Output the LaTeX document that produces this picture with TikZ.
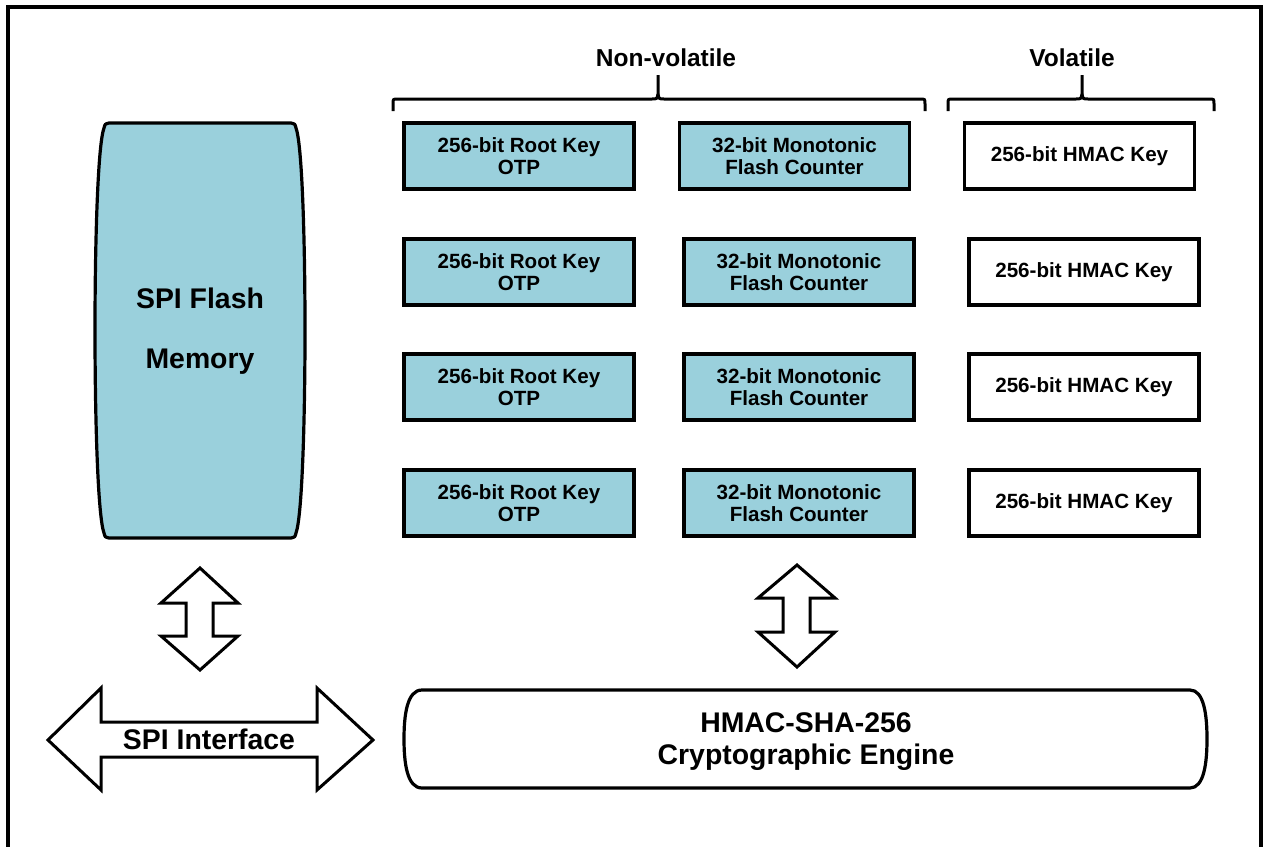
\documentclass[tikz,border=0pt]{standalone}
\usepackage{fontspec}
\setmainfont{Liberation Sans}
\definecolor{memblue}{RGB}{154,208,220}
\tikzset{
  x=1pt, y=-1pt,
  outline/.style={draw=black, line width=3.2pt},
  cell/.style={outline, minimum width=230pt, minimum height=66pt, align=center, inner sep=0pt,
    font=\fontsize{20.6}{22}\selectfont\bfseries},
  nvcell/.style={cell, fill=memblue},
  vcell/.style={cell, fill=white},
  bigtext/.style={font=\fontsize{28.4}{32}\selectfont\bfseries, align=center, inner sep=0pt},
  headtext/.style={font=\fontsize{24.5}{26}\selectfont\bfseries, inner sep=0pt},
  bracket/.style={draw=black, line width=3pt},
  blockarrow/.style={draw=black, line width=3pt, fill=white, line join=miter},
}
\begin{document}
\begin{tikzpicture}
\useasboundingbox (0,0) rectangle (1263,846);
% outer frame
\draw[line width=4pt] (8,860) -- (8,7) -- (1261,7) -- (1261,860);

% SPI flash memory
\draw[outline, fill=memblue]
  (104,128) .. controls (105,124) .. (109,123) -- (291,123)
  .. controls (295,124) .. (296,128)
  .. controls (308,160) and (308,500) .. (296,533)
  .. controls (295,537) .. (291,538) -- (109,538)
  .. controls (105,537) .. (104,533)
  .. controls (92,500) and (92,160) .. (104,128) -- cycle;
\node[bigtext] (flash1) at (200,298) {SPI Flash};
\node[bigtext] (flash2) at (200,362) {Memory};

% headings and brackets
\node[headtext] (nvlabel) at (666,58) {Non-volatile};
\node[headtext] (vlabel) at (1072,58) {Volatile};
\coordinate (nvtip) at (658,75);
\coordinate (vtip) at (1082,75);
\draw[bracket] (393,111) -- (393,104) .. controls (393,99) .. (398,99) -- (652,99)
  .. controls (657,99) .. (658,94) -- (nvtip);
\draw[bracket] (658,94) .. controls (659,99) .. (664,99) -- (920,99)
  .. controls (925,99) .. (925,104) -- (925,111);
\draw[bracket] (948,111) -- (948,104) .. controls (948,99) .. (953,99) -- (1076,99)
  .. controls (1081,99) .. (1082,94) -- (vtip);
\draw[bracket] (1082,94) .. controls (1083,99) .. (1088,99) -- (1209,99)
  .. controls (1214,99) .. (1214,104) -- (1214,111);

% memory cells
\node[nvcell] (root1) at (519,156) {256-bit Root Key\\OTP};
\node[nvcell] (cnt1) at (794.5,156) {32-bit Monotonic\\Flash Counter};
\node[vcell] (hmac1) at (1079.5,156) {256-bit HMAC Key};

\node[nvcell] (root2) at (519,272) {256-bit Root Key\\OTP};
\node[nvcell] (cnt2) at (799,272) {32-bit Monotonic\\Flash Counter};
\node[vcell] (hmac2) at (1084,272) {256-bit HMAC Key};

\node[nvcell] (root3) at (519,387) {256-bit Root Key\\OTP};
\node[nvcell] (cnt3) at (799,387) {32-bit Monotonic\\Flash Counter};
\node[vcell] (hmac3) at (1084,387) {256-bit HMAC Key};

\node[nvcell] (root4) at (519,503) {256-bit Root Key\\OTP};
\node[nvcell] (cnt4) at (799,503) {32-bit Monotonic\\Flash Counter};
\node[vcell] (hmac4) at (1084,503) {256-bit HMAC Key};

% vertical block arrows
\draw[blockarrow] (200,568) -- (238,603) -- (213,603) -- (213,636) -- (238,636)
  -- (200,670) -- (161,636) -- (186,636) -- (186,603) -- (161,603) -- cycle;
\draw[blockarrow] (797,565) -- (835,598) -- (810,598) -- (810,632) -- (835,632)
  -- (797,667) -- (758,632) -- (783,632) -- (783,598) -- (758,598) -- cycle;

% SPI interface arrow
\draw[blockarrow] (48,740) -- (101,688) -- (101,722) -- (317,722) -- (317,688)
  -- (373,740) -- (317,790) -- (317,757) -- (101,757) -- (101,790) -- cycle;
\node[bigtext] (spi) at (209,739) {SPI Interface};

% crypto engine
\draw[outline]
  (422,690) -- (1190,690) .. controls (1204,690) and (1207,715) .. (1207,739)
  .. controls (1207,763) and (1204,788) .. (1190,788) -- (422,788)
  .. controls (407,788) and (404,763) .. (404,739)
  .. controls (404,715) and (407,690) .. (422,690) -- cycle;
\node[bigtext] (engine) at (806,742) {HMAC-SHA-256\\Cryptographic Engine};
\end{tikzpicture}
\end{document}
